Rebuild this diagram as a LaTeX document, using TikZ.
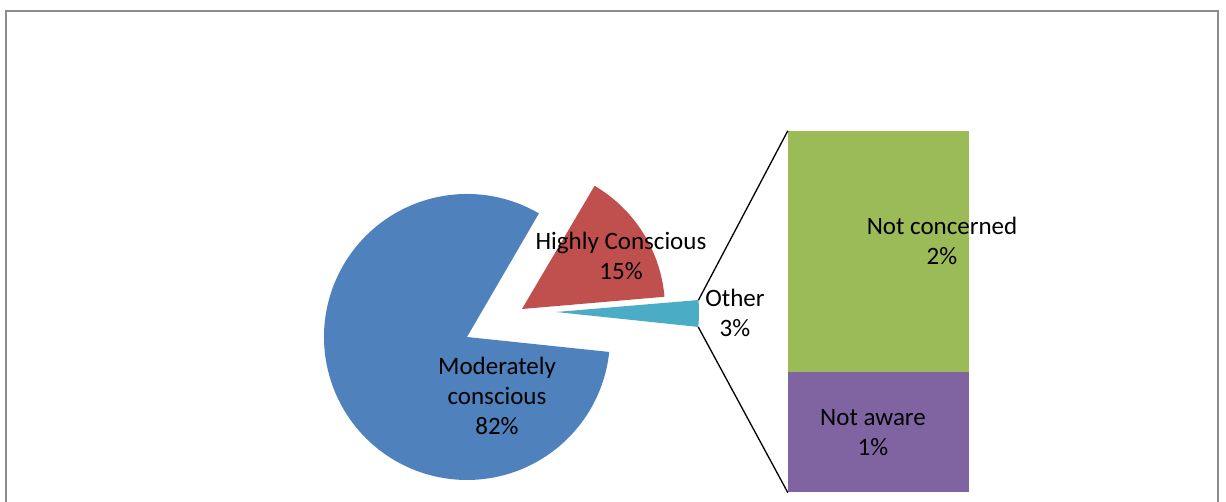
\documentclass[tikz,border=0pt]{standalone}
\usepackage{fontspec}
\setmainfont{Carlito}
\usetikzlibrary{positioning}
\usetikzlibrary{calc}
\definecolor{pieblue}{HTML}{4F81BD}
\definecolor{piered}{HTML}{C0504D}
\definecolor{pieteal}{HTML}{4BACC6}
\definecolor{bargreen}{HTML}{9BBB59}
\definecolor{barpurple}{HTML}{8064A2}
\definecolor{framegray}{HTML}{8C8C8C}
\begin{document}
\begin{tikzpicture}[%
    x=1pt, y=1pt,
    node distance=0pt,
    lbl/.style={align=center, font=\fontsize{25}{30}\selectfont, inner sep=0pt},
    barnode/.style={rectangle, minimum width=181pt, inner sep=0pt, draw=none},
    link/.style={black, line width=1.3pt},
]
\useasboundingbox (0,0) rectangle (1226,502);

% chart frame
\draw[framegray, line width=2pt] (6,0) |- (1218,491) -- (1218,0);

% pie slices
\fill[pieblue] (467,165) -- +(59.8:143) arc (59.8:354:143) -- cycle;
\fill[piered] (522,193) -- +(4.9:143) arc (4.9:59.5:143) -- cycle;
\fill[pieteal] (556,190) -- +(-6:143) arc (-6:4.8:143) -- cycle;

% corners of the other slice
\coordinate (othertop) at ($(556,190)+(4.8:143)$);
\coordinate (otherbottom) at ($(556,190)+(-6:143)$);

% bar nodes
\node[barnode, fill=bargreen, minimum height=241pt] (notconcerned) at (878.5,250.5) {};
\node[barnode, fill=barpurple, minimum height=120pt] (notaware) [below=of notconcerned] {};

% lines to the bar
\draw[link] (othertop) -- (notconcerned.north west);
\draw[link] (otherbottom) -- (notaware.south west);

% labels
\node[lbl] (moderatelylabel) at (497,106) {Moderately\\conscious\\82\%};
\node[lbl] (highlylabel) at (621,246) {Highly Conscious\\15\%};
\node[lbl] (otherlabel) at (735,189) {Other\\3\%};
\node[lbl] (notconcernedlabel) at (942,261) {Not concerned\\2\%};
\node[lbl] (notawarelabel) at (873,69) {Not aware\\1\%};

\end{tikzpicture}
\end{document}
